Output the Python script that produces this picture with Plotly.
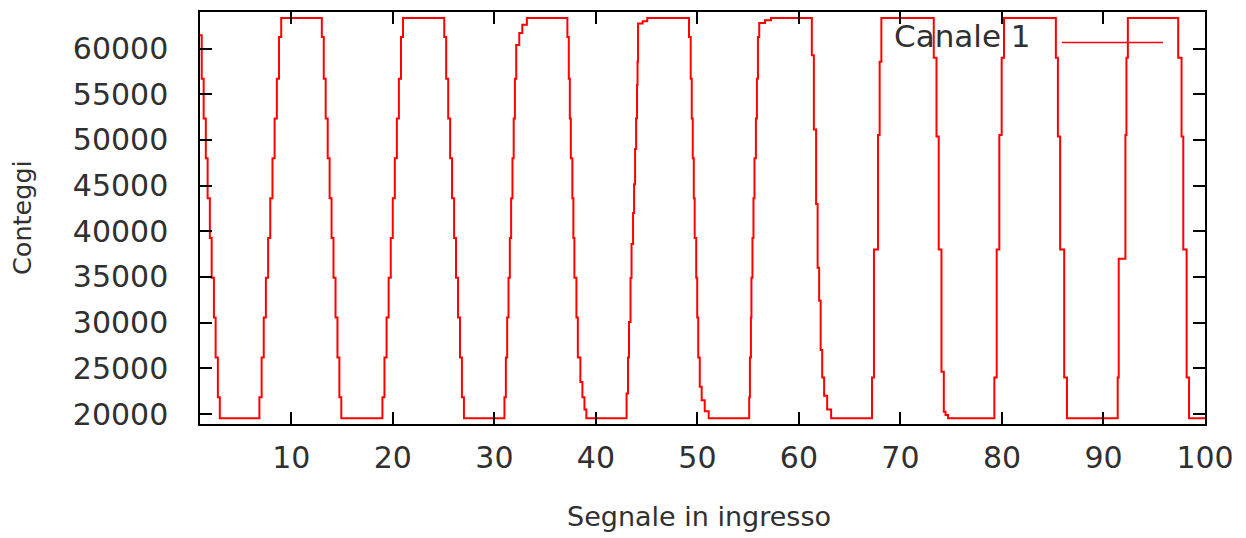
import plotly.graph_objects as go

# ---- data ----
TOP = 63340      # saturation level (counts)
BOTTOM = 19530   # pedestal level (counts)
start_x, start_y = 1.0, 61460
end_x = 100.0

fall11 = [61270, 56700, 52340, 47990, 43630, 39270, 34920, 30560, 26200, 21850, 19530]
rise11 = [21850, 26200, 30560, 34920, 39270, 43630, 47990, 52340, 56700, 61270, 63340]

# each edge: input-signal positions where the counts jump, and the counts after each jump
edge_x = [
    [1.17, 1.36, 1.57, 1.75, 1.97, 2.15, 2.37, 2.54, 2.76, 2.95],
    [6.85, 7.07, 7.28, 7.49, 7.71, 7.92, 8.14, 8.35, 8.57, 8.78, 9.00],
    [13.00, 13.19, 13.38, 13.58, 13.77, 13.96, 14.15, 14.35, 14.54, 14.73, 14.92],
    [18.97, 19.17, 19.38, 19.58, 19.79, 19.99, 20.19, 20.39, 20.59, 20.80, 21.00],
    [25.06, 25.25, 25.45, 25.64, 25.83, 26.03, 26.22, 26.42, 26.61, 26.80, 27.00],
    [30.99, 31.13, 31.26, 31.39, 31.52, 31.65, 31.78, 31.90, 32.02, 32.15, 32.45, 32.75, 33.20],
    [37.19, 37.33, 37.43, 37.53, 37.68, 37.78, 37.88, 38.08, 38.22, 38.47, 38.67, 38.87, 39.06],
    [43.02, 43.16, 43.26, 43.41, 43.51, 43.66, 43.76, 43.86, 43.96, 44.05, 44.10, 44.15, 44.60, 45.06],
    [49.17, 49.34, 49.44, 49.54, 49.64, 49.73, 49.88, 49.98, 50.08, 50.23, 50.42, 50.72, 51.11],
    [55.10, 55.17, 55.27, 55.32, 55.42, 55.52, 55.62, 55.76, 55.86, 55.96, 56.09, 56.66, 57.25],
    [61.27, 61.47, 61.69, 61.84, 61.99, 62.14, 62.29, 62.48, 62.78, 63.17],
    [67.20, 67.39, 67.79, 67.95, 68.12],
    [73.28, 73.55, 73.77, 74.04, 74.27, 74.44, 74.69],
    [79.25, 79.48, 79.74, 79.97, 80.20],
    [85.31, 85.51, 85.73, 86.13, 86.40],
    [91.40, 91.50, 92.16, 92.26, 92.40],
    [97.36, 97.69, 97.86, 98.19, 98.43],
]
edge_y = [
    [56700, 52340, 47990, 43630, 39270, 34920, 30560, 26200, 21850, 19530],
    rise11,
    fall11,
    rise11,
    fall11,
    [21850, 26200, 30560, 34920, 39270, 43630, 47990, 52340, 56700, 60400, 61700, 62600, 63340],
    [61270, 56700, 52340, 47990, 43630, 39270, 34920, 30560, 26200, 23500, 21850, 20500, 19530],
    [22250, 26200, 30070, 34900, 38620, 42000, 45140, 49000, 52380, 56000, 58550, 62730, 63000, 63340],
    [61270, 56700, 52340, 47990, 43630, 39270, 34920, 30560, 26200, 23000, 21500, 20300, 19530],
    [21850, 26200, 30560, 34920, 39270, 43630, 47990, 52340, 56700, 61270, 62800, 63100, 63340],
    [59280, 51150, 43000, 36000, 32400, 27000, 24000, 22000, 20500, 19530],
    [24000, 38000, 50540, 58550, 63340],
    [59000, 50380, 38000, 24620, 20240, 19900, 19530],
    [24000, 38000, 50540, 59000, 63340],
    [59000, 50380, 38000, 24000, 19530],
    [24000, 37000, 50540, 59000, 63340],
    [59000, 50380, 38000, 24000, 19530],
]

x_tick_vals = [10, 20, 30, 40, 50, 60, 70, 80, 90, 100]
y_tick_vals = [20000, 25000, 30000, 35000, 40000, 45000, 50000, 55000, 60000]
y_tick_text = ["20000", "25000", "30000", "35000", "40000", "45000", "50000", "55000", "60000"]

series_name = "Canale 1"
x_title = "Segnale in ingresso"
y_title = "Conteggi"

# ---- build the series ----
xs = [start_x]
ys = [start_y]
for ex, ey in zip(edge_x, edge_y):
    xs.extend(ex)
    ys.extend(ey)
xs.append(end_x)
ys.append(BOTTOM)

FONT = "DejaVu Sans"
TXT = "#303030"

fig = go.Figure()
fig.add_trace(go.Scatter(
    x=xs, y=ys, mode="lines", name=series_name,
    line=dict(color="#ff0000", width=2, shape="hv"),
    showlegend=False,
))

axis_common = dict(
    showline=True, linecolor="black", linewidth=1.5, mirror="ticks",
    ticks="inside", ticklen=12, tickwidth=1.5, tickcolor="black",
    showgrid=False, zeroline=False,
    tickfont=dict(family=FONT, size=30, color=TXT),
)

fig.update_xaxes(range=[1, 100], tickvals=x_tick_vals, ticklabelstandoff=6, **axis_common)
fig.update_yaxes(range=[18912, 64000], tickvals=y_tick_vals, ticktext=y_tick_text,
                 ticklabelstandoff=24, **axis_common)

fig.update_layout(
    width=1246, height=538,
    margin=dict(l=200, r=41, t=10, b=114),
    paper_bgcolor="white", plot_bgcolor="white",
    annotations=[
        dict(text=x_title, xref="paper", yref="paper", x=0.4965, y=-0.2246,
             xanchor="center", yanchor="middle", showarrow=False,
             font=dict(family=FONT, size=27, color=TXT)),
        dict(text=y_title, xref="paper", yref="paper", x=-0.1771, y=0.5000,
             xanchor="center", yanchor="middle", showarrow=False, textangle=-90,
             font=dict(family=FONT, size=25.5, color=TXT)),
        dict(text=series_name, xref="paper", yref="paper", x=0.8289, y=0.9420,
             xanchor="right", yanchor="middle", showarrow=False,
             font=dict(family=FONT, size=31, color=TXT)),
    ],
    shapes=[
        dict(type="line", xref="paper", yref="paper", x0=0.8577, x1=0.9582,
             y0=0.9258, y1=0.9258, line=dict(color="#ff0000", width=1.6)),
    ],
)

fig.write_html("out.html")
